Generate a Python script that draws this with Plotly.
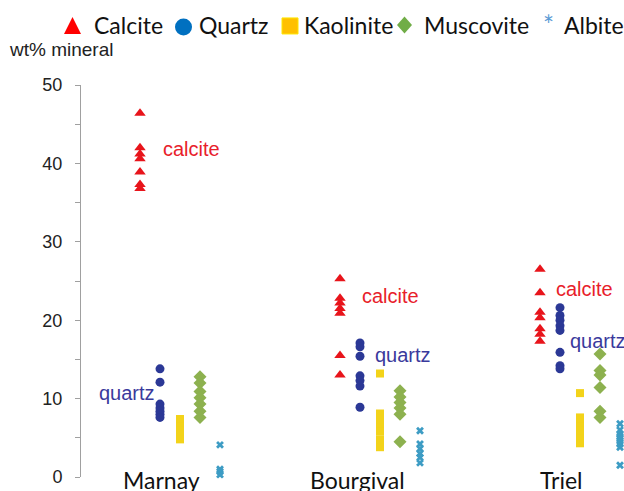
import plotly.graph_objects as go

sites = ["Marnay", "Bourgival", "Triel"]
minerals = ["Calcite", "Quartz", "Kaolinite", "Muscovite", "Albite"]

calcite = [[46.4, 42.0, 41.2, 40.6, 38.9, 37.3, 36.8],
           [25.3, 22.8, 22.2, 21.5, 20.9, 15.5, 13.0],
           [26.5, 23.5, 21.0, 20.3, 18.9, 18.2, 17.3]]
quartz = [[13.8, 12.1, 9.3, 8.8, 8.4, 8.0, 7.6],
          [17.1, 16.6, 15.4, 12.9, 12.3, 11.6, 8.9],
          [21.6, 20.6, 20.0, 19.3, 18.7, 15.9, 14.2, 13.8]]
kaolinite = [[7.4, 6.9, 6.4, 5.9, 5.4, 4.8],
             [13.2, 8.1, 7.5, 6.9, 6.3, 5.8, 4.8, 4.3, 3.8],
             [10.7, 7.6, 7.0, 6.4, 5.9, 5.4, 4.9, 4.3]]
muscovite = [[12.8, 12.0, 10.9, 10.1, 9.3, 8.4, 7.6],
             [11.0, 10.2, 9.5, 8.8, 8.0, 4.5],
             [15.7, 13.6, 13.0, 11.4, 8.4, 7.6]]
albite = [[4.1, 1.0, 0.7, 0.3],
          [5.9, 4.2, 3.6, 3.0, 2.5, 1.8, -0.3],
          [6.8, 6.0, 5.5, 5.2, 4.9, 4.6, 4.2, 3.8, 1.5]]

yticks = [0, 10, 20, 30, 40, 50]

series = [calcite, quartz, kaolinite, muscovite, albite]
offsets = [-0.1, 0.0, 0.1, 0.2, 0.3]
symbols = ["triangle-up", "circle", "square", "diamond", "x"]
sizes = [10, 9, 8, 10, 7]
colors = ["#e8141b", "#2b3896", "#f3d31a", "#8db14f", "#3d9cc4"]

W, H = 624, 491
L, T, R = 81, 85, 0
B = H - 476.7
PW, PH = W - L - R, H - T - B


def px(x):
    return (x - L) / PW


def py(y):
    return (H - B - y) / PH


fig = go.Figure()
for name, data, off, sym, sz, col in zip(minerals, series, offsets, symbols, sizes, colors):
    xs, ys = [], []
    for i, vals in enumerate(data):
        xs += [i + off] * len(vals)
        ys += vals
    fig.add_trace(go.Scatter(
        x=xs, y=ys, mode="markers", name=name, cliponaxis=False,
        marker=dict(symbol=sym, size=sz, color=col, line=dict(width=0)),
        showlegend=False))

ann = []
lab_font_c = dict(family="Liberation Sans, Arial", size=20, color="#e8202a")
lab_font_q = dict(family="Liberation Sans, Arial", size=20, color="#3a3a9c")
for x0, y0, t, f in [(161, 149, "calcite", lab_font_c), (360, 296, "calcite", lab_font_c),
                     (554, 289, "calcite", lab_font_c), (96.5, 393, "quartz", lab_font_q),
                     (373, 354.5, "quartz", lab_font_q), (568, 341, "quartz", lab_font_q)]:
    ann.append(dict(x=px(x0), y=py(y0), xref="paper", yref="paper", text=t, showarrow=False,
                    xanchor="left", yanchor="middle", font=f))
for cx, s in zip([161, 357.5, 561.5], sites):
    ann.append(dict(x=px(cx), y=py(480), xref="paper", yref="paper", text=s, showarrow=False,
                    xanchor="center", yanchor="middle",
                    font=dict(family="Lato", size=23, color="#111111")))
for lx, s in zip([92, 197, 302, 422, 562], minerals):
    ann.append(dict(x=px(lx), y=py(25.5), xref="paper", yref="paper", text=s, showarrow=False,
                    xanchor="left", yanchor="middle",
                    font=dict(family="Lato", size=23, color="#111111")))
ann.append(dict(x=px(548), y=py(25), xref="paper", yref="paper", text="*", showarrow=False,
                xanchor="center", yanchor="middle",
                font=dict(family="Lato", size=26, color="#5b9bd5")))
ann.append(dict(x=px(7), y=py(49.5), xref="paper", yref="paper", text="wt% mineral",
                showarrow=False, xanchor="left", yanchor="middle",
                font=dict(family="Liberation Sans, Arial", size=19, color="#222222")))


def path(pts):
    return "M " + " L ".join(f"{px(a)},{py(b)}" for a, b in pts) + " Z"


shapes = [
    dict(type="path", xref="paper", yref="paper", path=path([(64, 34), (72.5, 17), (81, 34)]),
         fillcolor="#ff0000", line=dict(width=0)),
    dict(type="circle", xref="paper", yref="paper", x0=px(175), x1=px(192), y0=py(18.5), y1=py(35.5),
         fillcolor="#0070c0", line=dict(width=0)),
    dict(type="rect", xref="paper", yref="paper", x0=px(282), x1=px(298), y0=py(18), y1=py(34),
         fillcolor="#ffc000", line=dict(width=1, color="#ffe600")),
    dict(type="path", xref="paper", yref="paper",
         path=path([(397, 25), (404.5, 16.5), (412, 25), (404.5, 33.5)]),
         fillcolor="#70ad47", line=dict(width=0)),
]

x_left = (81 - 160) / 200
x_right = x_left + PW / 200

fig.update_layout(
    width=W, height=H, margin=dict(l=L, r=R, t=T, b=B, pad=0),
    paper_bgcolor="white", plot_bgcolor="white",
    annotations=ann, shapes=shapes, showlegend=False,
    xaxis=dict(range=[x_left, x_right], showgrid=False, zeroline=False,
               showline=False, showticklabels=False, ticks=""),
    yaxis=dict(range=[0, 50], tickvals=yticks, showgrid=False, zeroline=False,
               showline=True, linecolor="#a0a0a0", linewidth=1,
               ticks="outside", ticklen=5, tickcolor="#a0a0a0", tickwidth=1,
               minor=dict(dtick=5, ticks="outside", ticklen=5, tickcolor="#a0a0a0", tickwidth=1),
               ticklabelstandoff=9,
               tickfont=dict(family="Liberation Sans, Arial", size=18, color="#222222")),
)

# remove the default page margin so the 624x491 figure fills the window exactly
fig.write_html("out.html",
               config={"displayModeBar": False},
               post_script="document.body.style.margin='0';"
                           "document.documentElement.style.overflow='hidden';")
